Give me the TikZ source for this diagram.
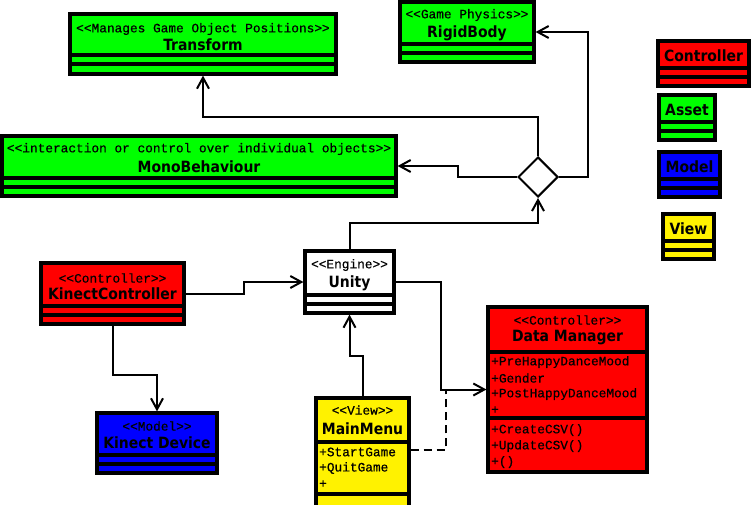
\documentclass[tikz,border=0pt]{standalone}
\usepackage{fontspec}
\usetikzlibrary{arrows.meta,shapes.geometric}
\newfontfamily\monof{Liberation Mono}[FakeBold=0.6]
\newfontfamily\titlef{DejaVu Sans Condensed}
\newcommand\umlbox[6]{%
  \node[umlrect, fill=#6, minimum width={#4-#2}, minimum height={#5-#3}] (#1) at ({(#2+#4)/2},{(#3+#5)/2}) {};}
\newcommand\umldiv[2]{\draw[divline] (#1.west |- 0,#2) -- (#1.east |- 0,#2);}
\begin{document}
\begin{tikzpicture}[x=1pt,y=-1pt,
  umlrect/.style={draw=black, line width=3.2pt, rectangle, inner sep=0pt},
  divline/.style={line width=3.2pt},
  stereo/.style={font=\monof\fontsize{12.8}{15}\selectfont, inner sep=0pt},
  ttl/.style={font=\titlef\bfseries\fontsize{15.5}{18}\selectfont, inner sep=0pt},
  attr/.style={stereo, anchor=west},
  conn/.style={line width=2pt},
  arr/.style={conn, -{Straight Barb[length=11pt,width=12pt]}},
  dep/.style={conn, dash pattern=on 8pt off 5pt}]
\useasboundingbox (0,0) rectangle (752,504);
\fill[white] (0,0) rectangle (752,504);

% Transform
\umlbox{transform}{70}{14}{336}{74}{green}
\umldiv{transform}{55}\umldiv{transform}{64}
\node[stereo] (transformst) at (203,29) {<<Manages Game Object Positions>>};
\node[ttl] (transformt) at (203,45) {Transform};

% RigidBody
\umlbox{rigid}{400}{2}{534}{62}{green}
\umldiv{rigid}{44}\umldiv{rigid}{53}
\node[stereo] (rigidst) at (467,15) {<<Game Physics>>};
\node[ttl] (rigidt) at (467,33) {RigidBody};

% MonoBehaviour
\umlbox{mono}{2}{136}{396}{196}{green}
\umldiv{mono}{178}\umldiv{mono}{187}
\node[stereo] (monost) at (199,149) {<<interaction or control over individual objects>>};
\node[ttl] (monot) at (199,167) {MonoBehaviour};

% Legend
\umlbox{lgc}{658}{41}{749}{86}{red}
\umldiv{lgc}{68}\umldiv{lgc}{77}
\node[ttl] (lgct) at (703.5,56) {Controller};
\umlbox{lga}{659}{95}{715}{140}{green}
\umldiv{lga}{122}\umldiv{lga}{131}
\node[ttl] (lgat) at (687,110) {Asset};
\umlbox{lgm}{659}{152}{720}{197}{blue}
\umldiv{lgm}{179}\umldiv{lgm}{188}
\node[ttl] (lgmt) at (689.5,167) {Model};
\umlbox{lgv}{663}{214}{714}{259}{yellow}
\umldiv{lgv}{241}\umldiv{lgv}{250}
\node[ttl] (lgvt) at (688.5,229) {View};

% KinectController
\umlbox{kc}{41}{263}{184}{324}{red}
\umldiv{kc}{306}\umldiv{kc}{315}
\node[stereo] (kcst) at (112.5,278) {<<Controller>>};
\node[ttl] (kct) at (112.5,294) {KinectController};

% Unity
\umlbox{unity}{305}{251}{394}{313}{white}
\umldiv{unity}{295}\umldiv{unity}{304}
\node[stereo] (unityst) at (349.5,265) {<<Engine>>};
\node[ttl] (unityt) at (349.5,283) {Unity};

% Kinect Device
\umlbox{kd}{97}{413}{217}{473}{blue}
\umldiv{kd}{455}\umldiv{kd}{464}
\node[stereo] (kdst) at (157,426) {<<Model>>};
\node[ttl] (kdt) at (157,443) {Kinect Device};

% Data Manager
\umlbox{dm}{488}{307}{647}{472}{red}
\umldiv{dm}{352}\umldiv{dm}{418}
\node[stereo] (dmst) at (567.5,320) {<<Controller>>};
\node[ttl] (dmt) at (567.5,338) {Data Manager};
\node[attr] (dma1) at (491,362) {+PreHappyDanceMood};
\node[attr] (dma2) at (491,378) {+Gender};
\node[attr] (dma3) at (491,394) {+PostHappyDanceMood};
\node[attr] (dma4) at (491,410) {+};
\node[attr] (dmo1) at (491,430) {+CreateCSV()};
\node[attr] (dmo2) at (491,446) {+UpdateCSV()};
\node[attr] (dmo3) at (491,462) {+()};

% MainMenu
\umlbox{mm}{316}{398}{409}{508}{yellow}
\umldiv{mm}{442}\umldiv{mm}{494}
\node[stereo] (mmst) at (362.5,410) {<<View>>};
\node[ttl] (mmt) at (362.5,429) {MainMenu};
\node[attr] (mma1) at (319,452) {+StartGame};
\node[attr] (mma2) at (319,468) {+QuitGame};
\node[attr] (mma3) at (319,484) {+};

% Diamond
\node[diamond, draw=black, line width=2pt, fill=white, minimum width=40, minimum height=40, inner sep=0pt] (dia) at (538,177) {};

% Connectors
\draw[arr] (dia.north) -- (dia.north |- 0,117) -| (transform.south);
\draw[arr] (dia.west) -- (458,177) |- (mono.east);
\draw[arr] (dia.east) -- (588,177) |- (rigid.east);
\draw[arr] (unity.north) -- (unity.north |- 0,223) -| (dia.south);
\draw[arr] (kc.east) -- (kc.east -| 244,0) |- (unity.west);
\draw[arr] (kc.south) -- (kc.south |- 0,375) -| (kd.north);
\draw[arr] (unity.east) -- (unity.east -| 441,0) |- (dm.west);
\draw[arr] (mm.north) -- (mm.north |- 0,356) -| (unity.south);
\coordinate (j) at (446,389.5);
\draw[dep] (mm.east |- 0,450) -| (j);
\end{tikzpicture}
\end{document}
